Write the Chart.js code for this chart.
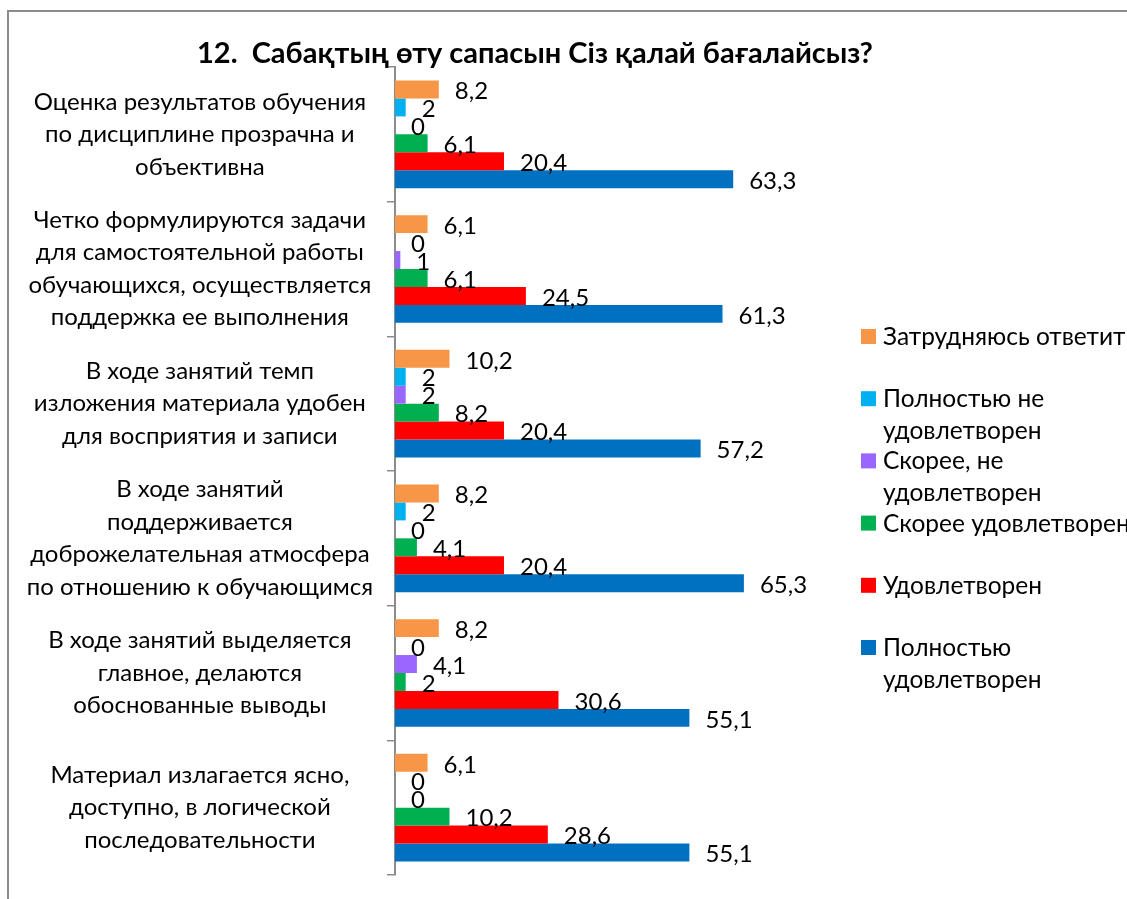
<!DOCTYPE html>
<html lang="ru">
<head>
  <meta charset="UTF-8" />
  <title>Сабақтың өту сапасы</title>
  <script src="https://cdn.jsdelivr.net/npm/chart.js"></script>
  <style>
    body {
      margin: 0;
      background: #fff;
      overflow: hidden;
    }
    #frame {
      position: absolute;
      left: 7px;
      top: 10px;
      width: 1200px;
      height: 1000px;
      border: 2px solid #8c8c8c;
    }
    #chart-container {
      position: absolute;
      left: 0;
      top: 0;
      width: 1127px;
      height: 899px;
    }
  </style>
</head>
<body>
  <div id="frame"></div>
  <div id="chart-container">
    <canvas id="qualityChart"></canvas>
  </div>

  <script>
    const titleText = '12.  Сабақтың өту сапасын Сіз қалай бағалайсыз?';

    const categories = [
      ['Оценка результатов обучения', 'по дисциплине прозрачна и', 'объективна'],
      ['Четко формулируются задачи', 'для самостоятельной работы', 'обучающихся, осуществляется', 'поддержка ее выполнения'],
      ['В ходе занятий темп', 'изложения материала удобен', 'для восприятия и записи'],
      ['В ходе занятий', 'поддерживается', 'доброжелательная атмосфера', 'по отношению к обучающимся'],
      ['В ходе занятий выделяется', 'главное, делаются', 'обоснованные выводы'],
      ['Материал излагается ясно,', 'доступно, в логической', 'последовательности']
    ];

    // legend text, already split the way the legend wraps it
    const seriesLabels = [
      ['Затрудняюсь ответить'],
      ['Полностью не', 'удовлетворен'],
      ['Скорее, не', 'удовлетворен'],
      ['Скорее удовлетворен'],
      ['Удовлетворен'],
      ['Полностью', 'удовлетворен']
    ];

    const hardToSay         = [8.2, 6.1, 10.2, 8.2, 8.2, 6.1];
    const fullyUnsatisfied  = [2, 0, 2, 2, 0, 0];
    const ratherUnsatisfied = [0, 1, 2, 0, 4.1, 0];
    const ratherSatisfied   = [6.1, 6.1, 8.2, 4.1, 2, 10.2];
    const satisfied         = [20.4, 24.5, 20.4, 20.4, 30.6, 28.6];
    const fullySatisfied    = [63.3, 61.3, 57.2, 65.3, 55.1, 55.1];

    const seriesColors = ['#F79646', '#00B0F0', '#9966FF', '#00B050', '#FF0000', '#0070C0'];
    const seriesData = [hardToSay, fullyUnsatisfied, ratherUnsatisfied, ratherSatisfied, satisfied, fullySatisfied];

    const FONT = 'Lato, "Open Sans", sans-serif';

    // title, value labels and legend drawn on the canvas
    const decorPlugin = {
      id: 'decor',
      afterDatasetsDraw(chart) {
        const ctx = chart.ctx;
        ctx.save();

        // value labels
        ctx.fillStyle = '#000';
        ctx.font = '24px ' + FONT;
        ctx.textAlign = 'left';
        ctx.textBaseline = 'middle';
        chart.data.datasets.forEach((ds, i) => {
          const meta = chart.getDatasetMeta(i);
          meta.data.forEach((bar, j) => {
            const txt = String(ds.data[j]).replace('.', ',');
            ctx.fillText(txt, bar.x + 16, bar.y + 2);
          });
        });

        // title
        ctx.font = 'bold 29px ' + FONT;
        ctx.textAlign = 'center';
        ctx.textBaseline = 'alphabetic';
        ctx.fillText(titleText, 535, 63);

        // legend
        ctx.font = '24.5px ' + FONT;
        ctx.textAlign = 'left';
        ctx.textBaseline = 'middle';
        seriesLabels.forEach((lines, i) => {
          const y = 336 + i * 62.2;
          ctx.fillStyle = seriesColors[i];
          ctx.fillRect(861, y - 7, 15, 15);
          ctx.fillStyle = '#000';
          lines.forEach((line, k) => {
            ctx.fillText(line, 883, y + 1 + k * 32);
          });
        });

        ctx.restore();
      }
    };

    const ctx = document.getElementById('qualityChart').getContext('2d');
    new Chart(ctx, {
      type: 'bar',
      data: {
        labels: categories,
        datasets: seriesData.map((values, i) => ({
          label: seriesLabels[i].join(' '),
          data: values,
          backgroundColor: seriesColors[i],
          borderWidth: 0,
          categoryPercentage: 0.8,
          barPercentage: 1
        }))
      },
      options: {
        indexAxis: 'y',
        responsive: true,
        maintainAspectRatio: false,
        animation: false,
        layout: {
          padding: { left: 0, top: 67, right: 358, bottom: 24 }
        },
        scales: {
          x: {
            min: 0,
            max: 70,
            display: false
          },
          y: {
            grid: {
              display: true,
              drawOnChartArea: false,
              drawTicks: true,
              tickLength: 8,
              color: '#8c8c8c',
              lineWidth: 1.5,
              offset: true
            },
            border: { display: true, color: '#8c8c8c', width: 2 },
            ticks: {
              autoSkip: false,
              crossAlign: 'center',
              padding: 14,
              color: '#000',
              font: { family: FONT, size: 24, lineHeight: '32.5px' }
            },
            afterFit(scale) {
              scale.width = 395;
              scale.paddingTop = 0;
              scale.paddingBottom = 0;
            }
          }
        },
        plugins: {
          legend: { display: false },
          title: { display: false },
          tooltip: { enabled: false }
        }
      },
      plugins: [decorPlugin]
    });
  </script>
</body>
</html>
